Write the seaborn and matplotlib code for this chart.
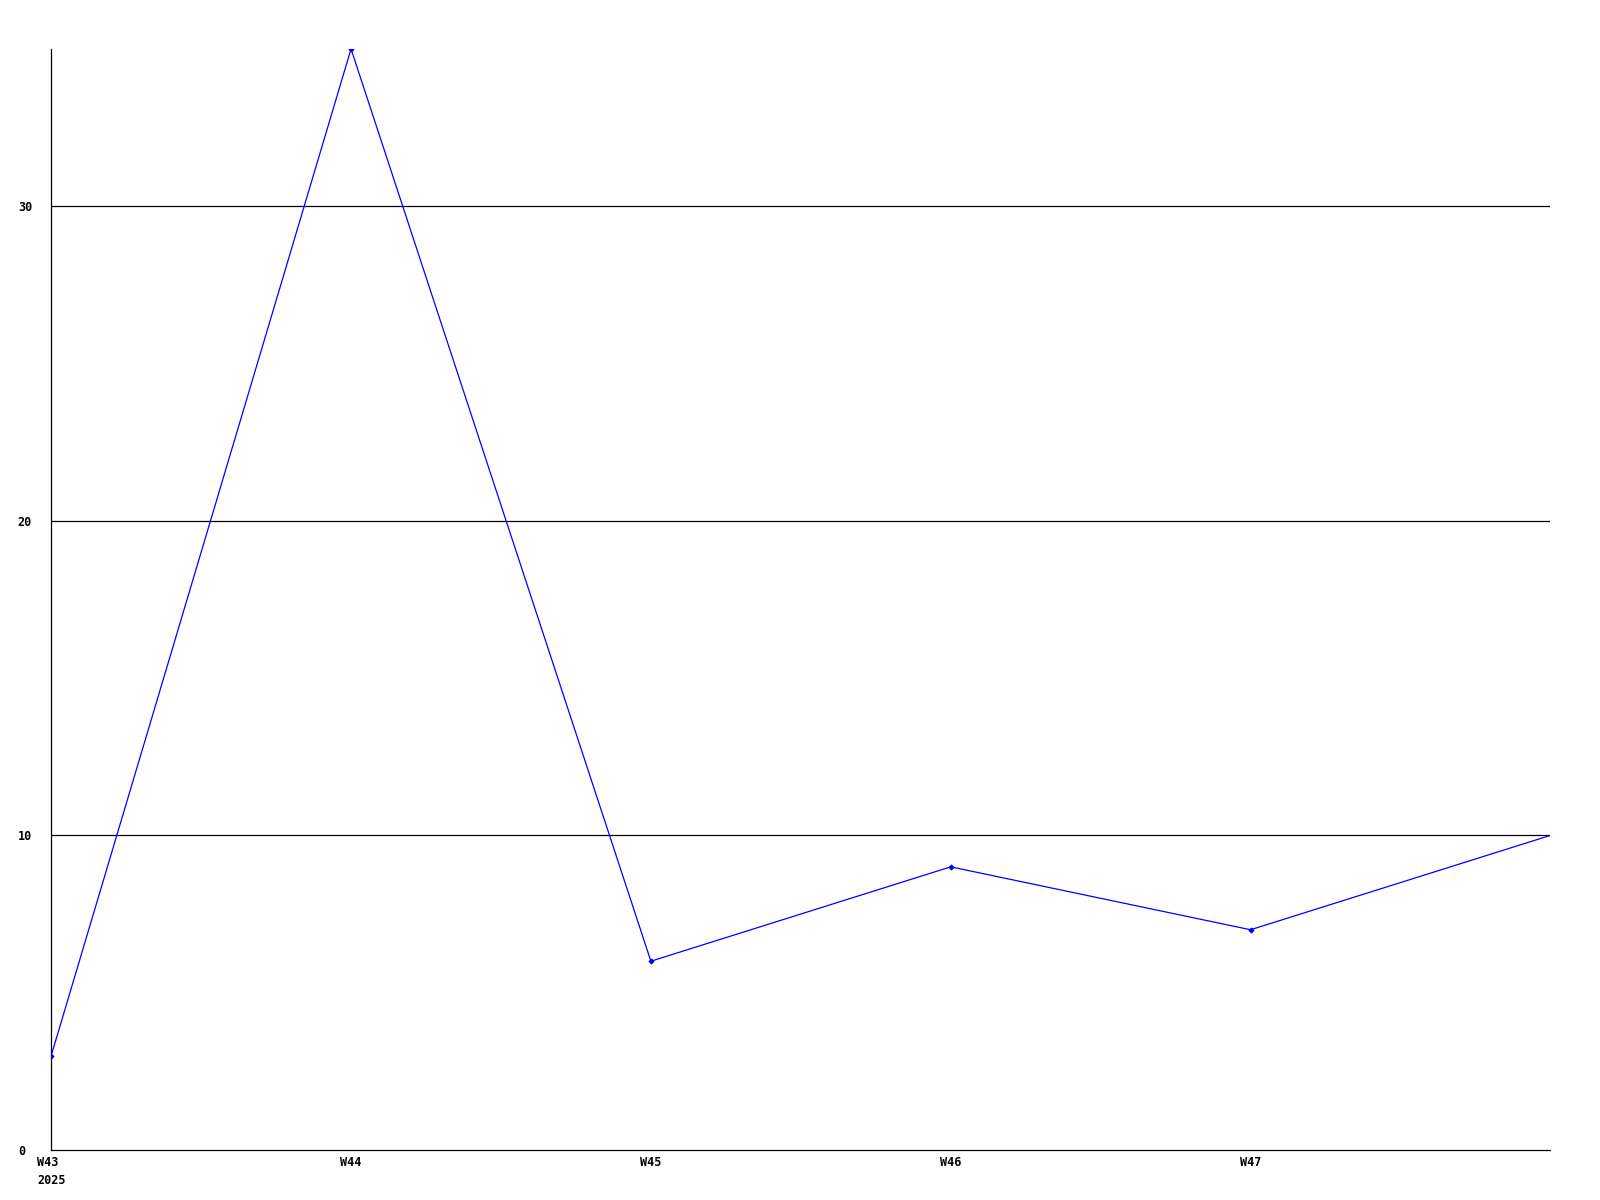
import numpy as np
import pandas as pd
import seaborn as sns
import matplotlib
matplotlib.use("Agg")
import matplotlib.pyplot as plt

# Weekly counts
weeks = [43, 44, 45, 46, 47, 48]
counts = [3, 35, 6, 9, 7, 10]
tick_weeks = [43, 44, 45, 46, 47]
tick_labels = ["W43\n2025", "W44", "W45", "W46", "W47"]
y_ticks = [0, 10, 20, 30]

df = pd.DataFrame({"week": weeks, "count": counts})

sns.set_style("white")
plt.rcParams["font.family"] = ["DejaVu Sans Mono"]

fig = plt.figure(figsize=(16, 12), dpi=100)
ax = fig.add_axes([0.032, 0.0417, 0.937, 0.9175])

sns.lineplot(data=df, x="week", y="count", ax=ax, color="#0000ff", linewidth=0.9,
             marker="D", markersize=2.5, markeredgewidth=0.8, markeredgecolor="#0000ff",
             markevery=list(range(5)), zorder=3)

for v in y_ticks[1:]:
    ax.axhline(v, color="black", linewidth=0.9, zorder=1)

ax.set_xlim(43, 48)
ax.set_ylim(0, 35)
ax.set_xticks(tick_weeks)
ax.set_xticklabels(tick_labels, fontsize=8.5, fontweight="bold", color="black", linespacing=1.5)
ax.set_yticks(y_ticks)
ax.set_yticklabels([str(v) for v in y_ticks], fontsize=8.5, fontweight="bold", color="black")
ax.tick_params(axis="x", length=0, pad=4)
ax.tick_params(axis="y", length=0, pad=24)
for lab in ax.get_yticklabels():
    lab.set_ha("left")
ax.get_xticklabels()[0].set_multialignment("left")

ax.set_xlabel("")
ax.set_ylabel("")
for s in ["top", "right"]:
    ax.spines[s].set_visible(False)
for s in ["left", "bottom"]:
    ax.spines[s].set_color("black")
    ax.spines[s].set_linewidth(0.9)

fig.savefig("out.png", dpi=100, facecolor="white")
